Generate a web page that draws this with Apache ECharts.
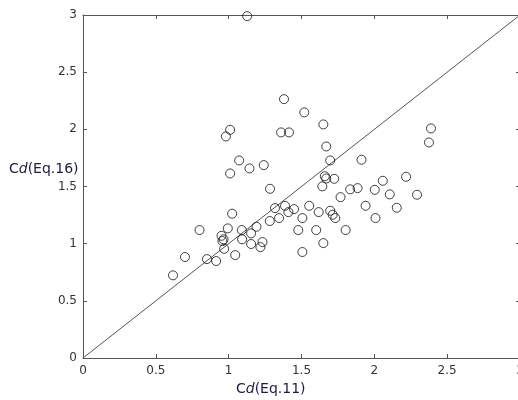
<!DOCTYPE html>
<html><head><meta charset="utf-8">
<script src="https://cdn.jsdelivr.net/npm/echarts@6/dist/echarts.min.js"></script>
<style>html,body{margin:0;padding:0;background:#fff}#c{width:518px;height:400px}</style>
</head><body><div id="c"></div>
<script>
const xTicks = [0, 0.5, 1, 1.5, 2, 2.5, 3];
const yTicks = [0, 0.5, 1, 1.5, 2, 2.5, 3];
const cdEq11 = [1.127,1.380,1.010,0.981,1.360,1.414,1.072,1.010,1.143,1.241,1.284,1.519,1.650,1.670,1.697,1.912,2.389,2.375,1.660,1.670,1.725,1.643,2.218,2.058,1.834,1.885,2.003,1.768,2.106,2.293,1.449,1.553,1.618,1.506,1.697,1.714,1.732,1.940,2.154,2.008,1.478,1.601,1.803,1.650,1.506,1.318,1.387,1.410,1.282,1.346,1.024,0.994,0.800,1.090,1.191,1.154,0.951,0.965,0.957,1.092,0.969,1.154,1.232,1.218,1.045,0.700,0.851,0.914,0.618];
const cdEq16 = [2.990,2.264,1.996,1.938,1.973,1.973,1.728,1.614,1.658,1.687,1.480,2.148,2.043,1.850,1.728,1.734,2.008,1.885,1.590,1.570,1.567,1.501,1.585,1.550,1.475,1.486,1.471,1.407,1.431,1.428,1.302,1.331,1.276,1.224,1.288,1.253,1.224,1.331,1.314,1.224,1.119,1.119,1.119,1.005,0.927,1.311,1.331,1.276,1.198,1.224,1.262,1.134,1.119,1.119,1.148,1.090,1.069,1.038,1.023,1.038,0.955,0.997,1.014,0.970,0.900,0.883,0.865,0.848,0.723];
const refLine = [[0,0],[3,3]];

const pts = cdEq11.map((x,i)=>[x, cdEq16[i]]);
const font = 'DejaVu Sans';
const axCol = '#555';
function base(){ return {min:0,max:3,interval:0.5,splitLine:{show:false},
  axisLine:{show:true,onZero:false,lineStyle:{color:axCol,width:1}},
  axisTick:{show:true,inside:true,length:4,lineStyle:{color:axCol}}}; }
const chart = echarts.init(document.getElementById('c'));
chart.setOption({
  animation:false,
  grid:{left:83,top:15,width:437,height:343,containLabel:false,outerBoundsMode:'none'},
  xAxis:[
    Object.assign(base(),{type:'value',position:'bottom',
      axisLabel:{color:'#333',fontFamily:font,fontSize:12,margin:7,formatter:v=>String(v)}}),
    Object.assign(base(),{type:'value',position:'top',axisLabel:{show:false}})
  ],
  yAxis:[
    Object.assign(base(),{type:'value',position:'left',
      axisLabel:{color:'#333',fontFamily:font,fontSize:12,margin:6,formatter:v=>String(v)}}),
    Object.assign(base(),{type:'value',position:'right',axisLabel:{show:false}})
  ],
  graphic:[
    {type:'text',left:9,top:162,style:{text:'{c|C}{d|d}{c|(Eq.16)}',rich:{c:{fontFamily:font,fontSize:14,fill:'#1c1c3c'},d:{fontFamily:font,fontSize:14,fontStyle:'italic',fill:'#1c1c3c'}}}},
    {type:'text',left:236,top:382,style:{text:'{c|C}{d|d}{c|(Eq.11)}',rich:{c:{fontFamily:font,fontSize:14,fill:'#1c1c3c'},d:{fontFamily:font,fontSize:14,fontStyle:'italic',fill:'#1c1c3c'}}}}
  ],
  series:[
    {type:'line',data:refLine,showSymbol:false,symbol:'none',lineStyle:{color:'#555',width:1},z:1},
    {type:'scatter',data:pts,symbol:'circle',symbolSize:9,
     itemStyle:{color:'rgba(255,255,255,0)',borderColor:'#111',borderWidth:1},z:2}
  ]
});
</script></body></html>
